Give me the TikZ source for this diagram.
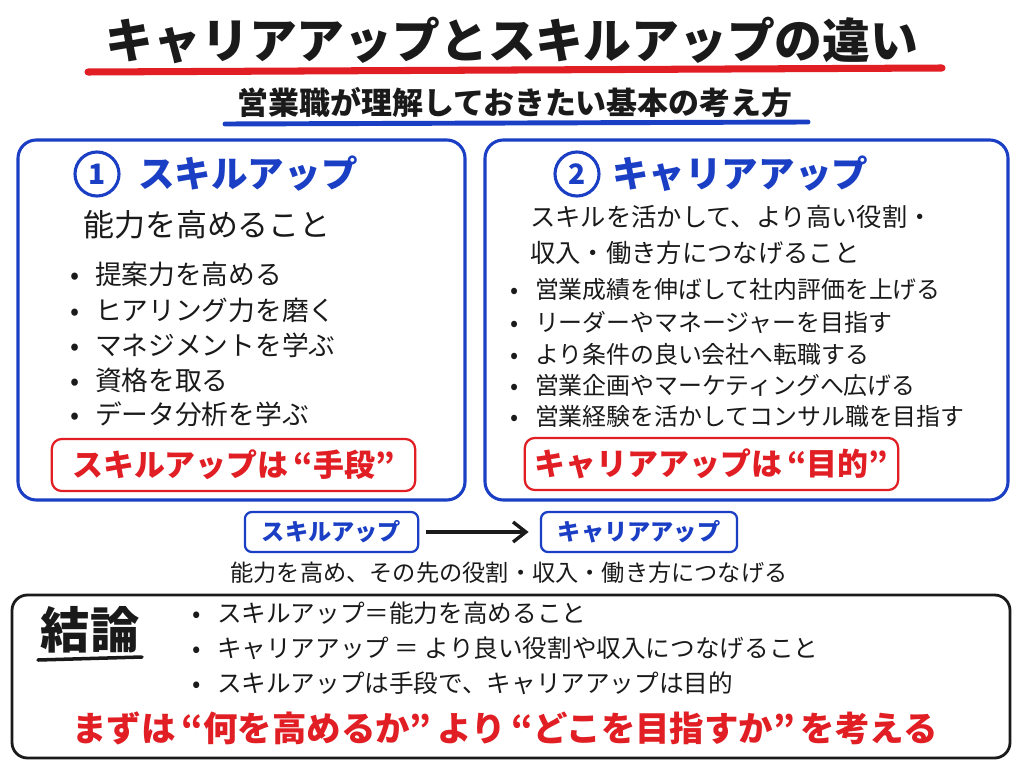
\documentclass[tikz,border=0pt]{standalone}
\usepackage{fontspec}
\setmainfont{Noto Sans CJK JP}
\usetikzlibrary{arrows.meta,positioning,calc}
\definecolor{cblue}{HTML}{1B3FC4}
\definecolor{cred}{HTML}{E01E24}
\definecolor{cink}{HTML}{1A1A1A}
\tikzset{
  ttl/.style={font=\fontsize{34}{40}\selectfont\bfseries, text=cink, inner sep=0pt},
  subttl/.style={font=\fontsize{22}{26}\selectfont\bfseries, text=cink, inner sep=0pt},
  panel/.style={draw=cblue, line width=2.2pt, rounded corners=13pt},
  numc/.style={circle, draw=cblue, line width=2.2pt, minimum size=1.1cm, inner sep=0pt,
               text=cblue, font=\fontsize{20}{24}\selectfont\bfseries},
  hd/.style={anchor=west, text=cblue, inner sep=0pt, font=\fontsize{26}{30}\selectfont\bfseries},
  lead/.style={anchor=west, text=cink, inner sep=0pt, font=\fontsize{22}{26}\selectfont},
  itm/.style={anchor=west, text=cink, inner sep=0pt},
  keybox/.style={draw=cred, line width=1.6pt, rounded corners=7pt, text=cred,
                 font=\fontsize{22}{26}\selectfont\bfseries, inner sep=0pt},
  flowbox/.style={draw=cblue, line width=1.6pt, rounded corners=5pt, text=cblue,
                  font=\fontsize{16.5}{20}\selectfont\bfseries, inner sep=0pt,
                  minimum height=1cm},
  flow/.style={-{Straight Barb[length=3.2mm, width=5mm]}, draw=cink, line width=2.4pt},
  sumbox/.style={draw=cink, line width=2pt, rounded corners=11pt}
}
\newcommand{\bul}{\makebox[0.62cm][l]{•}}

\begin{document}
\begin{tikzpicture}[x=0.025cm, y=-0.025cm]
\useasboundingbox[fill=white] (0,0) rectangle (1024,768);

% title
\node[ttl] (title) at (512,40) {キャリアアップとスキルアップの違い};
\draw[cred, line width=5pt, line cap=round] (88,72) -- (942,68);
\node[subttl] (subtitle) at (515,103) {営業職が理解しておきたい基本の考え方};
\draw[cblue, line width=3.5pt, line cap=round] (225,124) -- (808,122);

% panels
\draw[panel] (18,140) rectangle (465,500);
\draw[panel] (485,140) rectangle (1008,500);

\node[numc] (n1) at (97,174) {1};
\node[hd] (skillhd) at (138,174) {スキルアップ};
\node[lead] (skilldef) at (83,225) {能力を高めること};
\node[itm, font=\fontsize{19}{22}\selectfont] (s1) at (70,274) {\bul 提案力を高める};
\node[itm, font=\fontsize{19}{22}\selectfont] (s2) at (70,310) {\bul ヒアリング力を磨く};
\node[itm, font=\fontsize{19}{22}\selectfont] (s3) at (70,345) {\bul マネジメントを学ぶ};
\node[itm, font=\fontsize{19}{22}\selectfont] (s4) at (70,380) {\bul 資格を取る};
\node[itm, font=\fontsize{19}{22}\selectfont] (s5) at (70,414) {\bul データ分析を学ぶ};
\node[keybox, minimum width=9.08cm, minimum height=1.3cm] (skillkey) at (233.5,465)
  {スキルアップは\,“手段”};

\node[numc] (n2) at (577,174) {2};
\node[hd] (carhd) at (612,174) {キャリアアップ};
\node[lead, font=\fontsize{18}{22}\selectfont] (cardef1) at (530,217) {スキルを活かして、より高い役割・};
\node[lead, font=\fontsize{18}{22}\selectfont] (cardef2) at (530,253) {収入・働き方につなげること};
\node[itm, font=\fontsize{17}{20}\selectfont] (c1) at (510,289) {\bul 営業成績を伸ばして社内評価を上げる};
\node[itm, font=\fontsize{17}{20}\selectfont] (c2) at (510,322) {\bul リーダーやマネージャーを目指す};
\node[itm, font=\fontsize{17}{20}\selectfont] (c3) at (510,354) {\bul より条件の良い会社へ転職する};
\node[itm, font=\fontsize{17}{20}\selectfont] (c4) at (510,385) {\bul 営業企画やマーケティングへ広げる};
\node[itm, font=\fontsize{17}{20}\selectfont] (c5) at (510,416) {\bul 営業経験を活かしてコンサル職を目指す};
\node[keybox, minimum width=9.33cm, minimum height=1.3cm] (carkey) at (711.5,464)
  {キャリアアップは\,“目的”};

% flow
\node[flowbox, minimum width=4.33cm] (fskill) at (331.5,532) {スキルアップ};
\node[flowbox, minimum width=4.9cm] (fcar) at (639,532) {キャリアアップ};
\draw[flow, shorten <=5pt, shorten >=8pt] (fskill.east) -- (fcar.west);
\node[itm, anchor=center, font=\fontsize{16.5}{20}\selectfont] (fnote) at (509,573)
  {能力を高め、その先の役割・収入・働き方につなげる};

% conclusion
\draw[sumbox] (12,595) rectangle (1010,758);
\node[inner sep=0pt, text=cink, font=\fontsize{35}{40}\selectfont\bfseries] (concl) at (90,630) {結論};
\draw[cink, line width=2.5pt, line cap=round] (38,660) -- (142,657);
\node[itm, font=\fontsize{17.5}{21}\selectfont] (k1) at (192,613) {\bul スキルアップ＝能力を高めること};
\node[itm, font=\fontsize{17.5}{21}\selectfont] (k2) at (192,648) {\bul キャリアアップ ＝ より良い役割や収入につなげること};
\node[itm, font=\fontsize{17.5}{21}\selectfont] (k3) at (192,683) {\bul スキルアップは手段で、キャリアアップは目的};
\node[inner sep=0pt, text=cred, font=\fontsize{24.5}{29}\selectfont\bfseries] (msg) at (505,728)
  {まずは\,“何を高めるか”\,より\,“どこを目指すか”\,を考える};

\end{tikzpicture}
\end{document}
